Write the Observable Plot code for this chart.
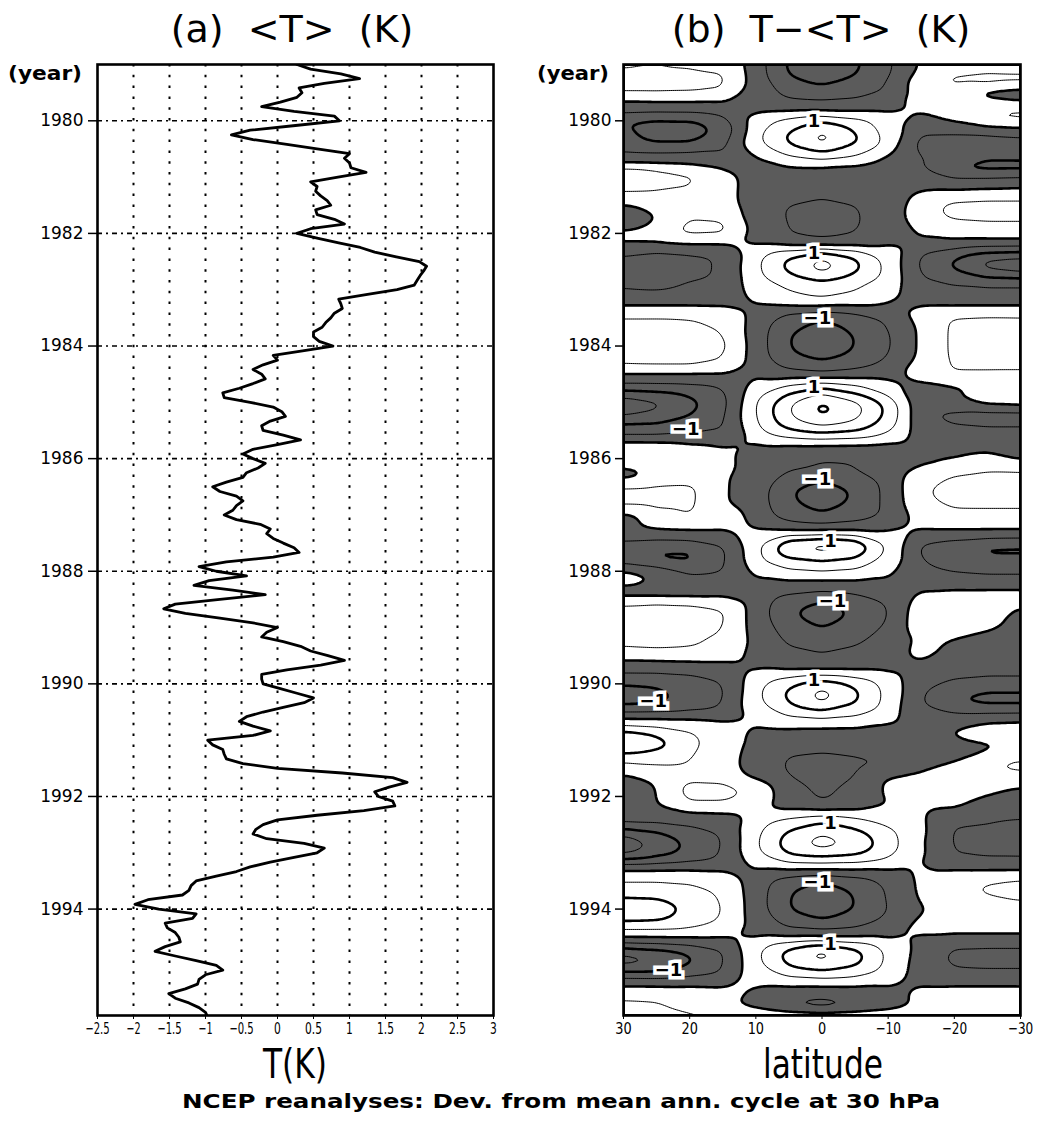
<!DOCTYPE html>
<html>
<head>
<meta charset="utf-8">
<script src="https://cdn.jsdelivr.net/npm/d3@7"></script>
<script src="https://cdn.jsdelivr.net/npm/@observablehq/plot@0.6"></script>
<style>
  html, body { margin: 0; padding: 0; background: #fff; }
  #fig { position: relative; width: 1044px; height: 1122px; overflow: hidden; background: #fff; }
  #panelA, #panelB { position: absolute; top: 0; }
  #panelA { left: 0; }
  #panelB { left: 520px; }
  #overlay { position: absolute; left: 0; top: 0; }
  g[aria-label="x-axis tick label"] text {
    font-family: "DejaVu Sans", sans-serif;
    font-size: 16px;
  }
  g[aria-label="y-axis tick label"] text {
    font-family: "DejaVu Sans", sans-serif;
    font-size: 17px;
  }
</style>
</head>
<body>
<div id="fig">
  <div id="panelA"></div>
  <div id="panelB"></div>
  <svg id="overlay" width="1044" height="1122" font-family="DejaVu Sans, sans-serif">
    <text x="292" y="42" font-size="38" text-anchor="middle" style="white-space:pre">(a)  &lt;T&gt;  (K)</text>
    <text x="821" y="42" font-size="38" text-anchor="middle" style="white-space:pre">(b)  T−&lt;T&gt;  (K)</text>
    <text x="8" y="80" font-size="19" font-weight="bold" textLength="74" lengthAdjust="spacingAndGlyphs">(year)</text>
    <text x="537" y="80" font-size="19" font-weight="bold" textLength="72" lengthAdjust="spacingAndGlyphs">(year)</text>
    <text x="263" y="1078" font-size="41" textLength="64" lengthAdjust="spacingAndGlyphs">T(K)</text>
    <text x="763" y="1078" font-size="41" textLength="120" lengthAdjust="spacingAndGlyphs">latitude</text>
    <text x="182" y="1108" font-size="19" font-weight="bold" textLength="758" lengthAdjust="spacingAndGlyphs">NCEP reanalyses: Dev. from mean ann. cycle at 30 hPa</text>
  </svg>
</div>
<script>
// ---------------------------------------------------------------
// (a) Monthly mean 30 hPa temperature anomaly <T> (K), Jan 1979 – Dec 1995
// ---------------------------------------------------------------
const startYear = 1979;
const meanT = [
  // 1979
  0.27, 0.46, 0.88, 1.14, 0.65, 0.30, 0.34, 0.27, 0.04, -0.22, 0.23, 0.79,
  // 1980
  0.86, 0.25, -0.38, -0.64, -0.34, 0.13, 0.55, 1.00, 0.93, 1.00, 1.02, 1.23,
  // 1981
  0.84, 0.46, 0.55, 0.53, 0.60, 0.69, 0.74, 0.53, 0.55, 0.79, 0.93, 0.46,
  // 1982
  0.27, 0.55, 0.85, 1.15, 1.35, 1.65, 1.97, 2.07, 2.03, 1.98, 1.94, 1.90,
  // 1983
  1.66, 1.25, 0.85, 0.88, 0.90, 0.79, 0.74, 0.67, 0.62, 0.50, 0.50, 0.58,
  // 1984
  0.77, 0.37, -0.06, 0.00, -0.20, -0.34, -0.22, -0.17, -0.34, -0.53, -0.76, -0.74,
  // 1985
  -0.38, -0.06, 0.06, 0.11, -0.10, -0.22, -0.20, 0.08, 0.32, 0.00, -0.34, -0.48,
  // 1986
  -0.34, -0.17, -0.27, -0.43, -0.48, -0.71, -0.90, -0.80, -0.57, -0.48, -0.57, -0.62,
  // 1987
  -0.74, -0.57, -0.24, -0.10, -0.15, -0.06, 0.08, 0.23, 0.30, -0.06, -0.71, -1.09,
  // 1988
  -0.85, -0.43, -0.95, -1.16, -0.62, -0.17, -0.80, -1.42, -1.58, -1.28, -0.80, -0.34,
  // 1989
  0.00, -0.15, -0.22, 0.08, 0.32, 0.46, 0.70, 0.93, 0.60, 0.13, -0.22, -0.22,
  // 1990
  -0.20, 0.04, 0.27, 0.50, 0.37, 0.08, -0.20, -0.43, -0.53, -0.34, -0.10, -0.34,
  // 1991
  -0.97, -0.90, -0.76, -0.74, -0.71, -0.48, 0.00, 0.90, 1.60, 1.80, 1.55, 1.35,
  // 1992
  1.40, 1.60, 1.63, 1.20, 0.55, 0.00, -0.20, -0.30, -0.34, -0.15, 0.37, 0.65,
  // 1993
  0.55, 0.23, -0.10, -0.38, -0.57, -0.85, -1.13, -1.20, -1.23, -1.32, -1.80, -1.98,
  // 1994
  -1.65, -1.13, -1.18, -1.56, -1.53, -1.42, -1.37, -1.35, -1.56, -1.70, -1.42, -1.13,
  // 1995
  -0.85, -0.76, -1.00, -1.09, -1.11, -1.28, -1.51, -1.42, -1.23, -1.09, -1.00, -0.97
];

const yearTicks = [1980, 1982, 1984, 1986, 1988, 1990, 1992, 1994];
const tempTicks = [-2.5, -2, -1.5, -1, -0.5, 0, 0.5, 1, 1.5, 2, 2.5, 3];
const tempGrid = [-2, -1.5, -1, -0.5, 0, 0.5, 1, 1.5, 2, 2.5];
const timeDomain = [1995.89, 1979.0]; // bottom, top

// ---------------------------------------------------------------
// (b) Deviation T − <T> (K) by latitude, every two months from Jan 1979
// ---------------------------------------------------------------
const latitudes = [30, 25, 20, 15, 10, 5, 0, -5, -10, -15, -20, -25, -30];
const latTicks = [30, 20, 10, 0, -10, -20, -30];
const rowStep = 1 / 6;
const anomalyRows = [
  [0.4,0.45,0.4,0.3,-0.25,-1.08,-1.4,-1.08,-0.59,0.05,0.3,0.35,0.35],
  [0.6,0.6,0.6,0.55,-0.24,-1.04,-1.35,-1.04,-0.57,0.15,0.45,0.5,0.5],
  [0.65,0.65,0.6,0.55,-0.19,-0.81,-1.05,-0.81,-0.44,0.35,0.65,0.7,0.65],
  [0.55,0.55,0.55,0.45,-0.3,-0.65,-0.75,-0.65,-0.45,0.2,0.15,-0.3,-0.5],
  [-0.1,-0.05,-0.05,-0.05,-0.15,-0.4,-0.45,-0.4,-0.15,0.2,0.25,0.2,0.1],
  [-0.35,-0.4,-0.4,-0.3,-0.1,-0.05,-0.05,-0.05,-0.05,0.05,0.3,0.55,0.6],
  [-1.0,-1.1,-1.05,-0.7,0.25,0.72,1.05,0.72,0.23,-0.2,0.05,0.45,0.55],
  [-0.9,-1.25,-1.3,-0.85,0.32,0.95,1.45,0.95,0.3,-0.35,-0.35,-0.3,-0.2],
  [-0.8,-1.15,-1.15,-0.7,0.4,1.15,1.75,1.15,0.35,-0.65,-0.7,-0.7,-0.65],
  [-0.6,-0.65,-0.6,-0.55,0.3,0.8,1.2,0.8,0.25,-0.6,-0.65,-0.65,-0.6],
  [-0.3,-0.3,-0.3,-0.35,-0.1,0.4,0.6,0.4,-0.1,-0.45,-0.7,-0.95,-0.95],
  [0.35,0.3,0.2,0.0,-0.1,-0.1,-0.1,-0.15,-0.3,-0.5,-1.15,-1.25,-1.25],
  [1.25,0.85,0.6,0.15,-0.15,-0.2,-0.25,-0.25,-0.3,-0.3,-0.5,-0.5,-0.45],
  [0.6,0.55,0.5,0.15,-0.2,-0.3,-0.35,-0.3,-0.25,-0.1,-0.15,-0.1,-0.05],
  [0.4,0.4,0.35,0.1,-0.15,-0.35,-0.45,-0.35,-0.2,0.1,0.25,0.3,0.3],
  [-0.05,0.2,0.35,0.15,-0.2,-0.52,-0.6,-0.52,-0.25,0.25,0.65,0.7,0.7],
  [-0.3,0.0,0.4,0.3,-0.2,-0.55,-0.65,-0.55,-0.25,0.25,0.65,0.7,0.7],
  [-0.3,0.05,0.6,0.6,-0.2,-0.52,-0.65,-0.55,-0.25,0.15,0.35,0.4,0.4],
  [0.2,0.3,0.6,0.55,-0.15,-0.5,-0.6,-0.5,-0.2,0.05,0.25,0.3,0.3],
  [0.0,0.0,0.1,0.1,-0.1,-0.35,-0.45,-0.35,-0.1,-0.1,-0.15,-0.2,-0.2],
  [-0.4,-0.55,-0.5,-0.45,0.26,0.75,1.1,0.75,0.24,-0.45,-0.7,-0.95,-1.0],
  [-0.65,-0.7,-0.6,-0.45,0.4,1.15,1.75,1.15,0.35,-0.6,-1.1,-1.7,-1.85],
  [-0.6,-0.65,-0.6,-0.45,0.38,1.1,1.65,1.1,0.35,-0.55,-1.0,-1.5,-1.7],
  [-0.6,-0.6,-0.5,-0.45,0.3,0.7,0.95,0.7,0.3,-0.45,-0.6,-0.75,-0.75],
  [-0.5,-0.55,-0.45,-0.35,0.15,0.5,0.7,0.5,0.15,-0.35,-0.4,-0.4,-0.4],
  [-0.3,-0.3,-0.3,-0.25,0.1,0.35,0.5,0.35,0.1,-0.2,-0.25,-0.25,-0.25],
  [0.15,0.15,0.15,0.1,-0.1,-0.15,-0.2,-0.15,-0.15,0.1,0.1,0.1,0.1],
  [0.55,0.55,0.5,0.35,-0.18,-0.77,-1.0,-0.77,-0.42,0.2,0.55,0.6,0.6],
  [0.6,0.6,0.6,0.45,-0.21,-0.89,-1.15,-0.89,-0.48,0.1,0.6,0.65,0.6],
  [0.65,0.8,0.8,0.5,-0.23,-1.0,-1.3,-1.0,-0.55,0.1,0.6,0.65,0.65],
  [0.75,1.0,1.15,0.6,-0.23,-1.0,-1.3,-1.0,-0.55,0.1,0.6,0.65,0.65],
  [0.65,0.75,0.75,0.5,-0.22,-0.92,-1.2,-0.92,-0.5,0.1,0.6,0.6,0.6],
  [0.55,0.55,0.55,0.45,-0.15,-0.62,-0.8,-0.62,-0.35,0.2,0.55,0.55,0.55],
  [-0.05,-0.05,-0.05,-0.05,-0.1,-0.35,-0.45,-0.35,-0.2,0.35,0.5,0.5,0.5],
  [-0.45,-0.45,-0.45,-0.4,0.15,0.42,0.6,0.42,0.14,-0.1,0.0,0.05,0.0],
  [-1.2,-1.1,-0.9,-0.55,0.34,0.95,1.45,0.95,0.31,-0.3,-0.05,0.3,0.4],
  [-1.85,-1.6,-1.15,-0.65,0.5,1.45,2.1,1.65,0.85,-0.35,-0.15,0.25,0.35],
  [-1.75,-1.5,-1.1,-0.6,0.5,1.5,2.15,1.7,0.9,-0.4,-0.55,-0.65,-0.65],
  [-1.15,-1.1,-0.85,-0.55,0.45,1.35,1.8,1.5,0.8,-0.4,-0.6,-0.65,-0.65],
  [-0.7,-0.7,-0.6,-0.5,0.35,0.95,1.2,1.05,0.55,-0.3,-0.35,-0.4,-0.4],
  [-0.25,-0.25,-0.25,-0.25,0.1,0.35,0.45,0.4,0.2,-0.25,-0.3,-0.3,-0.3],
  [0.6,0.55,0.3,0.1,-0.15,-0.25,-0.3,-0.3,-0.3,-0.15,-0.15,-0.1,-0.2],
  [0.55,0.5,0.3,0.1,-0.2,-0.45,-0.52,-0.52,-0.5,-0.2,0.0,0.2,-0.1],
  [-0.1,0.15,0.25,0.15,-0.2,-0.4,-0.48,-0.45,-0.3,0.1,0.3,0.4,0.4],
  [-0.2,0.1,0.25,0.05,-0.2,-0.65,-0.85,-0.65,-0.3,0.3,0.55,0.65,0.65],
  [0.55,0.6,0.6,0.05,-0.22,-0.92,-1.2,-0.92,-0.35,0.45,0.65,0.7,0.7],
  [0.65,0.65,0.6,0.05,-0.23,-0.96,-1.25,-0.96,-0.35,0.45,0.6,0.65,0.65],
  [0.6,0.6,0.6,0.05,-0.21,-0.89,-1.15,-0.89,-0.35,0.4,0.55,0.55,0.55],
  [-0.2,0.3,0.5,0.3,-0.17,-0.73,-0.95,-0.73,-0.4,0.25,0.4,0.4,0.4],
  [-0.2,0.2,0.3,0.2,-0.1,-0.4,-0.5,-0.4,-0.2,0.15,0.25,0.25,0.25],
  [-0.2,-0.2,-0.2,-0.15,0.1,0.2,0.25,0.2,0.1,-0.15,-0.2,-0.2,-0.2],
  [-0.6,-0.65,-0.6,-0.45,0.35,1.45,1.7,1.45,0.4,-0.5,-0.65,-0.8,-0.85],
  [-0.8,-1.1,-1.1,-0.6,0.35,1.35,1.6,1.35,0.4,-0.6,-0.85,-1.2,-1.2],
  [-0.75,-0.95,-1.02,-0.55,0.3,0.75,0.9,0.75,0.3,-0.45,-0.6,-0.65,-0.65],
  [0.15,-0.1,-0.6,-0.5,0.15,0.45,0.55,0.45,0.15,-0.45,-0.55,-0.6,-0.6],
  [0.2,-0.05,-0.3,-0.3,-0.1,-0.05,-0.05,-0.05,-0.1,-0.2,-0.3,-0.35,-0.35],
  [-0.2,-0.2,-0.2,-0.15,-0.15,-0.3,-0.4,-0.3,-0.15,-0.05,0.0,0.0,0.0],
  [0.05,0.05,0.05,0.05,-0.17,-0.73,-0.95,-0.73,-0.4,0.2,0.3,0.35,0.35],
  [0.7,0.85,0.75,0.5,-0.22,-0.92,-1.2,-0.92,-0.5,0.35,0.5,0.4,-0.1],
  [1.0,1.15,0.95,0.55,-0.22,-0.92,-1.2,-0.92,-0.5,0.35,0.45,0.2,-0.2],
  [0.7,0.7,0.65,0.5,-0.18,-0.77,-1.0,-0.77,-0.42,0.3,0.4,0.15,-0.15],
  [0.65,0.65,0.6,0.45,-0.15,-0.62,-0.8,-0.62,-0.35,0.1,0.0,-0.2,-0.3],
  [0.55,0.6,0.55,0.35,-0.12,-0.5,-0.6,-0.5,-0.3,0.15,-0.1,-0.3,-0.35],
  [0.2,0.25,0.25,0.2,-0.1,-0.35,-0.45,-0.35,-0.2,0.1,-0.15,-0.3,-0.35],
  [-0.2,-0.2,-0.15,-0.1,-0.1,-0.3,-0.35,-0.3,-0.2,-0.1,-0.25,-0.35,-0.35],
  [-0.55,-0.55,-0.5,-0.4,0.1,0.3,0.4,0.3,0.1,-0.3,-0.4,-0.45,-0.45],
  [-0.95,-0.9,-0.75,-0.5,0.31,0.9,1.35,0.9,0.29,-0.4,-0.6,-0.65,-0.65],
  [-1.3,-1.15,-0.85,-0.55,0.38,1.12,1.7,1.12,0.35,-0.45,-0.9,-1.1,-1.1],
  [-1.2,-1.1,-0.8,-0.5,0.36,1.05,1.6,1.05,0.33,-0.5,-1.0,-1.15,-1.15],
  [-0.5,-0.5,-0.45,-0.4,0.25,0.65,0.85,0.65,0.25,-0.35,-0.5,-0.55,-0.55],
  [0.2,0.2,0.15,0.05,0.1,0.3,0.35,0.3,0.1,-0.2,-0.2,-0.05,0.0],
  [0.9,0.7,0.5,0.2,-0.1,-0.1,-0.15,-0.15,-0.2,-0.2,0.05,0.3,0.35],
  [1.75,1.25,0.65,0.25,-0.1,-0.25,-0.3,-0.3,-0.3,-0.25,-0.05,0.05,0.1],
  [1.3,1.05,0.6,0.2,-0.15,-0.4,-0.45,-0.4,-0.3,-0.3,-0.2,-0.1,0.0],
  [0.6,0.6,0.5,0.2,-0.2,-0.55,-0.6,-0.55,-0.5,-0.25,-0.1,0.3,0.55],
  [0.3,0.45,0.45,0.2,-0.2,-0.55,-0.65,-0.55,-0.4,-0.05,0.2,0.5,0.6],
  [-0.15,0.1,0.35,0.3,-0.1,-0.5,-0.6,-0.5,0.05,0.1,0.3,0.35,0.35],
  [-0.35,0.0,0.65,0.65,0.4,-0.35,-0.6,-0.4,0.1,0.15,0.3,0.2,0.0],
  [-0.4,0.0,0.65,0.65,0.35,-0.3,-0.55,-0.35,0.05,0.1,0.15,-0.05,-0.2],
  [-0.3,0.0,0.35,0.35,0.15,-0.25,-0.45,-0.3,0.0,0.05,0.05,-0.15,-0.25],
  [-0.15,-0.2,-0.15,-0.1,0.15,0.35,0.5,0.35,0.15,0.05,-0.15,-0.3,-0.35],
  [-0.6,-0.55,-0.45,-0.35,0.3,0.8,1.15,0.85,0.45,0.1,-0.5,-0.55,-0.7],
  [-1.5,-1.15,-0.75,-0.45,0.4,1.1,1.5,1.2,0.65,0.1,-0.55,-0.6,-0.65],
  [-1.85,-1.4,-0.9,-0.5,0.45,1.3,1.75,1.4,0.75,0.05,-0.55,-0.6,-0.65],
  [-1.7,-1.25,-0.85,-0.45,0.4,1.1,1.3,1.15,0.65,0.1,-0.5,-0.55,-0.55],
  [-0.65,-0.6,-0.5,-0.4,0.25,0.55,0.6,0.55,0.35,0.0,-0.4,-0.45,-0.45],
  [0.1,0.1,0.1,0.05,-0.1,-0.15,-0.2,-0.15,-0.1,0.1,0.1,0.1,0.1],
  [0.55,0.55,0.5,0.35,-0.2,-0.75,-1.0,-0.75,-0.35,0.1,0.4,0.5,0.6],
  [0.6,0.6,0.55,0.4,-0.25,-0.95,-1.25,-0.95,-0.45,0.1,0.4,0.55,0.65],
  [1.15,1.1,0.8,0.45,-0.25,-1.0,-1.35,-1.0,-0.45,0.05,0.35,0.45,0.55],
  [1.4,1.3,0.9,0.5,-0.25,-1.0,-1.3,-1.0,-0.5,-0.05,0.25,0.3,0.3],
  [1.2,1.15,0.75,0.45,-0.2,-0.8,-1.05,-0.8,-0.4,0.05,0.25,0.3,0.3],
  [0.6,0.6,0.55,0.4,-0.15,-0.5,-0.6,-0.5,-0.3,0.2,0.25,0.25,0.25],
  [0.02,0.02,0.02,0.0,-0.05,-0.05,-0.05,-0.05,-0.05,-0.1,-0.15,-0.15,-0.15],
  [-0.85,-0.75,-0.6,-0.45,0.32,0.95,1.35,0.95,0.32,-0.15,-0.5,-0.5,-0.5],
  [-1.75,-1.5,-1.1,-0.55,0.4,1.25,1.75,1.25,0.4,-0.2,-0.6,-0.65,-0.65],
  [-1.55,-1.4,-1.0,-0.5,0.35,1.05,1.3,1.05,0.35,-0.2,-0.55,-0.6,-0.6],
  [-0.75,-0.8,-0.6,-0.45,0.25,0.6,0.75,0.6,0.25,-0.15,-0.35,-0.35,-0.35],
  [-0.05,-0.05,-0.05,-0.05,0.05,0.1,0.1,0.1,0.05,-0.05,-0.05,-0.05,-0.05],
  [0.3,0.3,0.25,0.15,-0.1,-0.3,-0.35,-0.3,-0.15,0.15,0.2,0.2,0.2],
  [0.6,0.55,0.35,0.15,-0.15,-0.5,-0.65,-0.5,-0.25,0.15,0.25,0.2,0.1],
  [0.65,0.6,0.4,0.15,-0.15,-0.55,-0.75,-0.55,-0.3,0.15,0.25,0.0,-0.4]
];

// Labels written on the ±1 K contours
const contourLabels = [
  {lat: 1.2, year: 1980.0, text: "1"},
  {lat: 1.2, year: 1982.36, text: "1"},
  {lat: 0.7, year: 1983.5, text: "−1"},
  {lat: 1.2, year: 1984.74, text: "1"},
  {lat: 20.6, year: 1985.47, text: "−1"},
  {lat: 0.7, year: 1986.37, text: "−1"},
  {lat: -1.3, year: 1987.46, text: "1"},
  {lat: -1.6, year: 1988.53, text: "−1"},
  {lat: 1.2, year: 1989.93, text: "1"},
  {lat: 25.5, year: 1990.31, text: "−1"},
  {lat: -1.3, year: 1992.47, text: "1"},
  {lat: 0.7, year: 1993.52, text: "−1"},
  {lat: -1.3, year: 1994.62, text: "1"},
  {lat: 23.2, year: 1995.08, text: "−1"}
];

// ---------------------------------------------------------------
const minusFmt = d => (d < 0 ? "\u2212" : "") + Math.abs(d);
const baseStyle = {fontFamily: "DejaVu Sans, sans-serif", fontSize: "17px", background: "transparent", overflow: "visible", color: "black"};

// Narrow the x tick labels so that the crowded numbers stay apart
function condenseTickLabels(svg, digitWidth) {
  const widths = {"\u2212": digitWidth * 1.1, ".": digitWidth * 0.5};
  svg.querySelectorAll('g[aria-label="x-axis tick label"] text').forEach(t => {
    const s = t.textContent;
    const w = Array.from(s).reduce((sum, c) => sum + (widths[c] ?? digitWidth), 0);
    t.setAttribute("textLength", w);
    t.setAttribute("lengthAdjust", "spacingAndGlyphs");
  });
}

// Panel (a): time runs downward, temperature along x
const months = meanT.map((T, i) => ({year: startYear + i / 12, T}));

const plotA = Plot.plot({
  width: 520, height: 1050,
  marginLeft: 97, marginRight: 27, marginTop: 64, marginBottom: 35,
  style: baseStyle,
  x: {domain: [-2.5, 3]},
  y: {domain: timeDomain},
  marks: [
    Plot.ruleX(tempGrid, {stroke: "black", strokeWidth: 2, strokeDasharray: "2.5,8.3"}),
    Plot.ruleY(yearTicks, {stroke: "black", strokeWidth: 1.6, strokeDasharray: "5,4,2,4"}),
    Plot.line(months, {x: "T", y: "year", stroke: "black", strokeWidth: 2.8, strokeLinejoin: "round", clip: true}),
    Plot.axisY({ticks: yearTicks, tickFormat: d => String(d), tickSize: 9, tickPadding: 5, label: null, strokeWidth: 1.5}),
    Plot.axisX({ticks: tempTicks, tickFormat: minusFmt, tickSize: 4, tickPadding: 3, label: null}),
    Plot.frame({stroke: "black", strokeWidth: 2.6})
  ]
});
condenseTickLabels(plotA, 6.8);
document.getElementById("panelA").appendChild(plotA);

// Panel (b): latitude–time contours, negative deviations shaded
const anomalyPoints = anomalyRows.flatMap((row, k) =>
  row.map((v, j) => ({lat: latitudes[j], year: startYear + k * rowStep, v}))
);
const fieldOpts = {
  x: "lat", y: "year", value: "v",
  interpolate: "barycentric", pixelSize: 2, blur: 2,
  clip: true
};

const plotB = Plot.plot({
  width: 524, height: 1050,
  marginLeft: 103, marginRight: 24, marginTop: 64, marginBottom: 35,
  style: baseStyle,
  x: {domain: [30, -30]},
  y: {domain: timeDomain},
  marks: [
    Plot.frame({fill: "#5b5b5b", stroke: "none"}),
    Plot.contour(anomalyPoints, {...fieldOpts, thresholds: [0], fill: "white", stroke: "none"}),
    Plot.contour(anomalyPoints, {...fieldOpts, thresholds: [-1.5, -0.5, 0.5, 1.5], fill: "none", stroke: "black", strokeWidth: 1}),
    Plot.contour(anomalyPoints, {...fieldOpts, thresholds: [-2, -1, 0, 1, 2], fill: "none", stroke: "black", strokeWidth: 2.6}),
    Plot.text(contourLabels, {x: "lat", y: "year", text: "text", fontSize: 18, fontWeight: "bold",
      fill: "black", stroke: "white", strokeWidth: 7, strokeLinejoin: "miter"}),
    Plot.axisY({ticks: yearTicks, tickFormat: d => String(d), tickSize: 8, tickPadding: 4, label: null, strokeWidth: 1.5}),
    Plot.axisX({ticks: latTicks, tickFormat: minusFmt, tickSize: 4, tickPadding: 3, label: null}),
    Plot.frame({stroke: "black", strokeWidth: 2.6})
  ]
});
condenseTickLabels(plotB, 8.2);
document.getElementById("panelB").appendChild(plotB);
</script>
</body>
</html>
